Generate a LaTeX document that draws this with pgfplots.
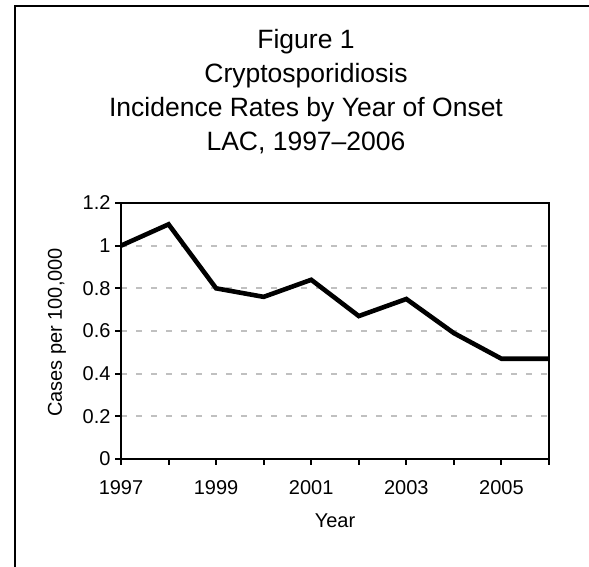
\documentclass[border=0pt]{standalone}
\usepackage{pgfplots}
\pgfplotsset{compat=1.18}
\usepackage{fontspec}
\setmainfont{Liberation Sans}
\begin{document}
\begin{tikzpicture}
\useasboundingbox (0pt,0pt) rectangle (589pt,567pt);
\clip (0pt,0pt) rectangle (589pt,567pt);
\fill[white] (0pt,0pt) rectangle (589pt,567pt);
\draw[black, line width=2.2pt] (15pt,-20pt) -- (15pt,561pt) -- (620pt,561pt);
% titles
\node[anchor=base, inner sep=0pt, font=\fontsize{26.5}{31}\selectfont] at (306pt,518pt) {Figure 1};
\node[anchor=base, inner sep=0pt, font=\fontsize{26.5}{31}\selectfont] at (306pt,484pt) {Cryptosporidiosis};
\node[anchor=base, inner sep=0pt, font=\fontsize{26.5}{31}\selectfont] at (306pt,450pt) {Incidence Rates by Year of Onset};
\node[anchor=base, inner sep=0pt, font=\fontsize{26.5}{31}\selectfont] at (306pt,416pt) {LAC, 1997--2006};
\begin{axis}[
  at={(121pt,108pt)}, anchor=south west,
  width=428pt, height=256pt, scale only axis,
  xmin=1997, xmax=2006, ymin=0, ymax=1.2,
  xtick={1997,1998,1999,2000,2001,2002,2003,2004,2005,2006},
  xticklabels={1997,,1999,,2001,,2003,,2005,},
  ytick={0,0.2,0.4,0.6,0.8,1,1.2},
  yticklabels={0,0.2,0.4,0.6,0.8,1,1.2},
  tick pos=left,
  tick align=outside,
  major tick length=6pt,
  tick style={black, line width=2pt},
  axis line style={black, line width=2.3pt},
  ymajorgrids,
  grid style={color={rgb,255:red,192;green,192;blue,192}, line width=2.3pt, dash pattern=on 6pt off 9pt},
  ticklabel style={font=\fontsize{20}{24}\selectfont},
  xticklabel style={yshift=-12pt},
  yticklabel style={xshift=-1pt},
]
\addplot[black, line width=4.6pt, mark=none] coordinates {
  (1997,1.00) (1998,1.10) (1999,0.80) (2000,0.76) (2001,0.84)
  (2002,0.67) (2003,0.75) (2004,0.59) (2005,0.47) (2006,0.47)
};
\end{axis}
\node[rotate=90, anchor=center, inner sep=0pt, font=\fontsize{20}{24}\selectfont] at (57pt,234.5pt) {Cases per 100,000};
\node[anchor=base, inner sep=0pt, font=\fontsize{20}{24}\selectfont] at (335pt,39pt) {Year};
\end{tikzpicture}
\end{document}
